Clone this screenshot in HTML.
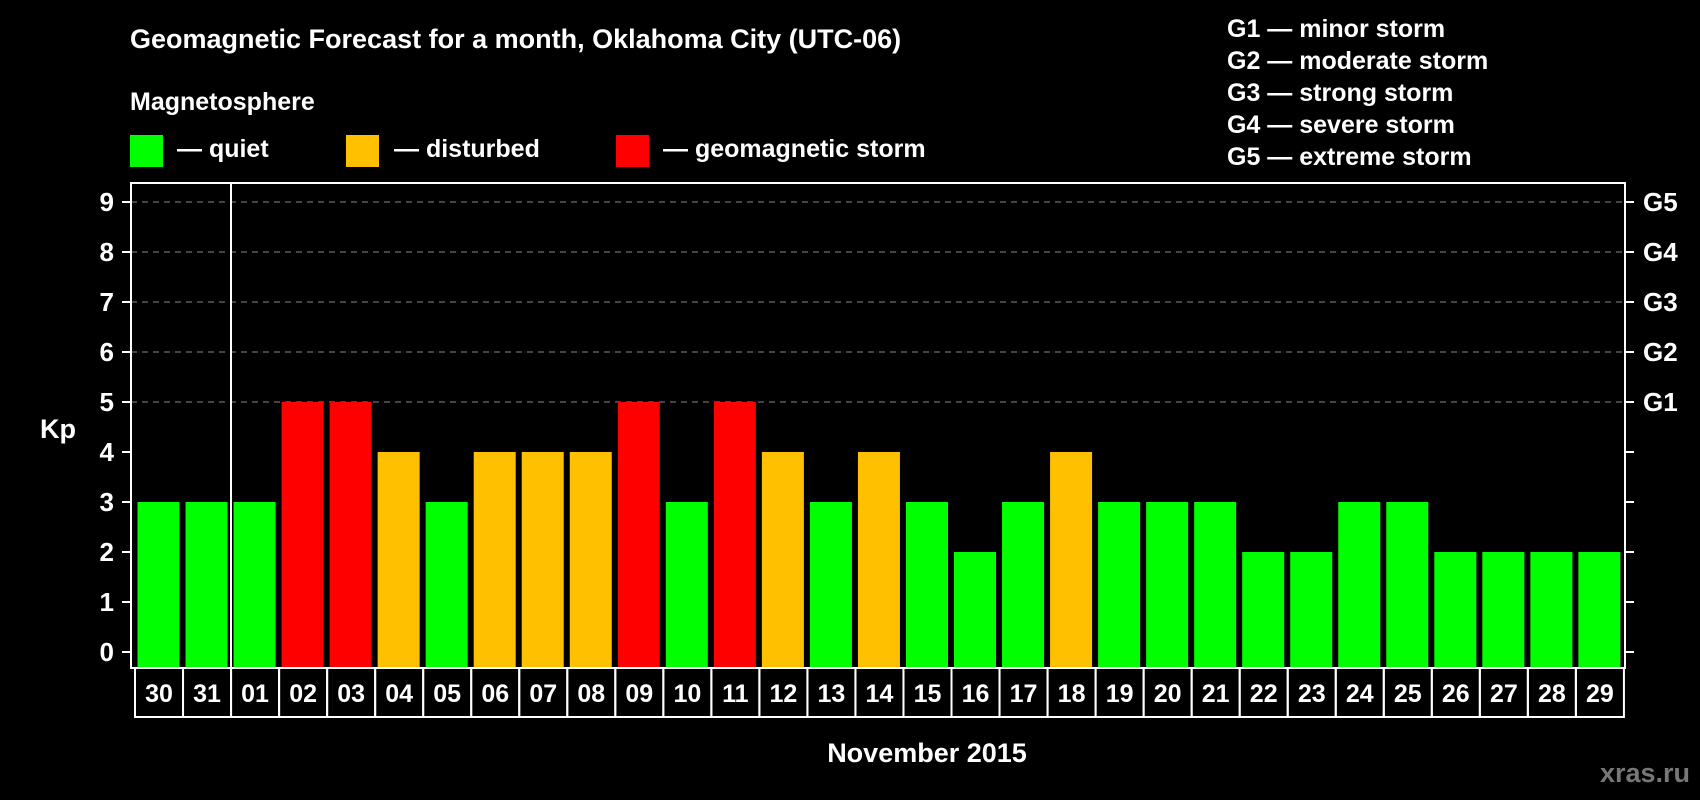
<!DOCTYPE html>
<html><head><meta charset="utf-8"><style>
html,body{margin:0;padding:0;background:#000;}
svg{display:block;font-family:"Liberation Sans",Arial,sans-serif;font-weight:bold;}
</style></head><body>
<svg id="chart" width="1700" height="800" viewBox="0 0 1700 800">
<text x="130" y="48" fill="#fff" font-size="27">Geomagnetic Forecast for a month, Oklahoma City (UTC-06)</text>
<text x="130" y="110" fill="#fff" font-size="25">Magnetosphere</text>
<rect x="130" y="135" width="33" height="32" fill="#00ff00"/>
<text x="177" y="157" fill="#fff" font-size="25">— quiet</text>
<rect x="346" y="135" width="33" height="32" fill="#ffc000"/>
<text x="394" y="157" fill="#fff" font-size="25">— disturbed</text>
<rect x="616" y="135" width="33" height="32" fill="#ff0000"/>
<text x="663" y="157" fill="#fff" font-size="25">— geomagnetic storm</text>
<g font-size="25" fill="#fff">
<text x="1227" y="37">G1 — minor storm</text>
<text x="1227" y="69">G2 — moderate storm</text>
<text x="1227" y="101">G3 — strong storm</text>
<text x="1227" y="133">G4 — severe storm</text>
<text x="1227" y="165">G5 — extreme storm</text>
</g>
<g id="grid"></g>
<g id="bars"></g>
<rect x="131" y="183" width="1494" height="485" fill="none" stroke="#fff" stroke-width="2"/>
<line x1="231" y1="183" x2="231" y2="668" stroke="#fff" stroke-width="2"/>
<g id="axes"></g>
<g id="xlabels"></g>
<text x="58" y="438" fill="#fff" font-size="27" text-anchor="middle">Kp</text>
<text x="927" y="762" fill="#fff" font-size="27" text-anchor="middle">November 2015</text>
<text x="1690" y="782" fill="#777" font-size="27" text-anchor="end">xras.ru</text>
</svg>
<script>
const days=["30","31","01","02","03","04","05","06","07","08","09","10","11","12","13","14","15","16","17","18","19","20","21","22","23","24","25","26","27","28","29"];
const kpValues=[3,3,3,5,5,4,3,4,4,4,5,3,5,4,3,4,3,2,3,4,3,3,3,2,2,3,3,2,2,2,2];
const yTicks=[0,1,2,3,4,5,6,7,8,9];
const gLabels=["G1","G2","G3","G4","G5"];
const NS="http://www.w3.org/2000/svg";
const x0=135,slot=48.03,plotBottom=668;
function y(v){return 652-50*v;}
function xs(i){return x0+i*slot;}
function color(v){return v>=5?"#ff0000":(v>=4?"#ffc000":"#00ff00");}
function mk(tag,attrs,parent){const e=document.createElementNS(NS,tag);for(const k in attrs)e.setAttribute(k,attrs[k]);parent.appendChild(e);return e;}
const grid=document.getElementById("grid"),bars=document.getElementById("bars"),axes=document.getElementById("axes"),xl=document.getElementById("xlabels");
yTicks.forEach(t=>{
 if(t>=5){const l=mk("line",{x1:131,x2:1625,y1:y(t),y2:y(t),stroke:"#888","stroke-width":1,"stroke-dasharray":"6,5"},grid);
 
 }
 const tl=mk("line",{x1:122,x2:131,y1:y(t),y2:y(t),stroke:"#fff","stroke-width":2},axes);
 
 
 const tr=mk("line",{x1:1625,x2:1634,y1:y(t),y2:y(t),stroke:"#fff","stroke-width":2},axes);
 
 
 const tx=mk("text",{x:114,y:y(t)+9,fill:"#fff","font-size":26,"text-anchor":"end"},axes);tx.textContent=t;
 
 
});
gLabels.forEach((g,i)=>{const tx=mk("text",{x:1643,y:y(5+i)+9,fill:"#fff","font-size":26},axes);tx.textContent=g;
 
 });
kpValues.forEach((v,i)=>{
 const r=mk("rect",{x:xs(i)+2.5,y:y(v),width:42,height:plotBottom-y(v),fill:color(v)},bars);
 
 
});
days.forEach((d,i)=>{
 const c=mk("rect",{x:xs(i),y:668,width:slot,height:49,fill:"none",stroke:"#fff","stroke-width":2},xl);
 
 
 const t=mk("text",{x:xs(i)+slot/2,y:702,fill:"#fff","font-size":25,"text-anchor":"middle"},xl);t.textContent=d;
 
 
});
</script>
</body></html>
